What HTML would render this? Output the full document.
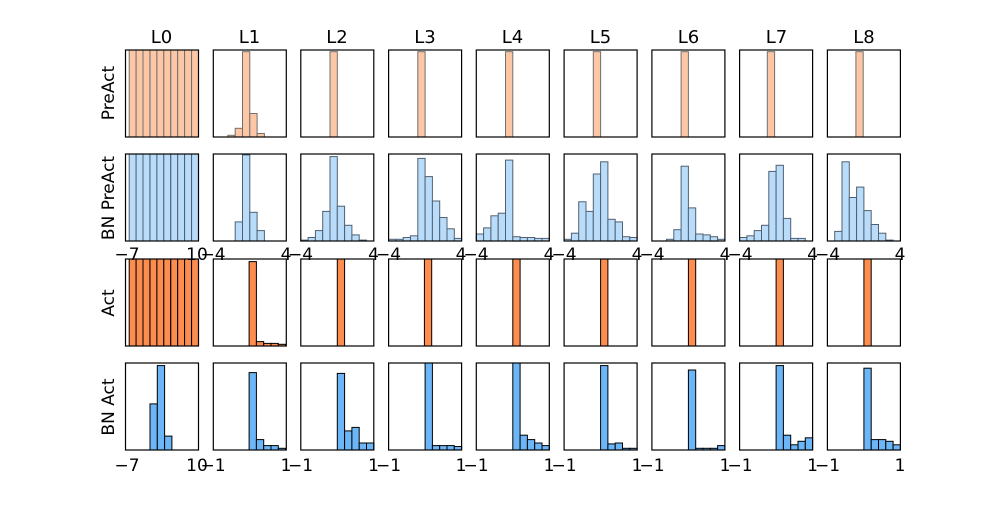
<!DOCTYPE html>
<html><head><meta charset="utf-8"><style>
body{margin:0;background:#fff;width:1000px;height:500px;overflow:hidden}
svg{font-family:"DejaVu Sans","Liberation Sans",sans-serif}
</style></head><body>
<svg id="s" width="1000" height="500" xmlns="http://www.w3.org/2000/svg">
<g font-size="18" text-anchor="middle" fill="#000">
<text x="161.5" y="43">L0</text><text x="249.5" y="43">L1</text><text x="337" y="43">L2</text>
<text x="425" y="43">L3</text><text x="512.5" y="43">L4</text><text x="600.5" y="43">L5</text>
<text x="688.5" y="43">L6</text><text x="776.5" y="43">L7</text><text x="864" y="43">L8</text>
</g>
<g font-size="17" text-anchor="middle" fill="#000">
<text transform="translate(114,93) rotate(-90)">PreAct</text>
<text transform="translate(114,198) rotate(-90)">BN PreAct</text>
<text transform="translate(114,303) rotate(-90)">Act</text>
<text transform="translate(114,407) rotate(-90)">BN Act</text>
</g>
<g id="bars"></g>
<g font-size="17" text-anchor="middle">
<text x="127" y="260">−7</text><text x="197" y="260">10</text>
<text x="213" y="260">−4</text><text x="286" y="260">4</text>
<text x="300.5" y="260">−4</text><text x="373.5" y="260">4</text>
<text x="388.5" y="260">−4</text><text x="461" y="260">4</text>
<text x="476" y="260">−4</text><text x="549" y="260">4</text>
<text x="564" y="260">−4</text><text x="637" y="260">4</text>
<text x="652" y="260">−4</text><text x="725" y="260">4</text>
<text x="740" y="260">−4</text><text x="812.5" y="260">4</text>
<text x="827.5" y="260">−4</text><text x="900" y="260">4</text>
<text x="127" y="471">−7</text><text x="197" y="471">10</text>
<text x="213" y="471">−1</text><text x="286" y="471">1</text>
<text x="300.5" y="471">−1</text><text x="373.5" y="471">1</text>
<text x="388.5" y="471">−1</text><text x="461" y="471">1</text>
<text x="476" y="471">−1</text><text x="549" y="471">1</text>
<text x="564" y="471">−1</text><text x="637" y="471">1</text>
<text x="652" y="471">−1</text><text x="725" y="471">1</text>
<text x="740" y="471">−1</text><text x="812.5" y="471">1</text>
<text x="827.5" y="471">−1</text><text x="900" y="471">1</text>
</g>
</svg>
<script>
var X=[125.5,213.3,300.8,388.6,476.3,564.1,651.9,739.6,827.4],W=73;
var Y=[50,154,259,363],H=87;
var fill=["#fdc7a5","#b9dcfb","#fc8d4f","#6cb6f8"],edge=["#707070","#506070","#000","#000"];
function seq(s,w,hs){return hs.map(function(h,i){return [s+i*w,w,h]});}
var full=seq(0.05,0.095,[1,1,1,1,1,1,1,1,1,1]);
var single=[[0.4,0.1,0.98]];
var D=[
[full,seq(0.2,0.1,[0.02,0.1,0.98,0.27,0.04]),single,single,single,single,single,[[0.38,0.1,0.98]],[[0.39,0.1,0.98]]],
[full,seq(0.3,0.1,[0.22,0.99,0.33,0.12]),
 seq(0,0.1,[0.01,0.04,0.12,0.34,0.97,0.40,0.18,0.07,0.01]),
 seq(0,0.1,[0.02,0.02,0.04,0.06,0.95,0.74,0.46,0.27,0.14,0.03]),
 seq(0,0.1,[0.08,0.15,0.29,0.32,0.93,0.05,0.04,0.04,0.03,0.03]),
 seq(0,0.1,[0.02,0.09,0.45,0.34,0.77,0.91,0.25,0.22,0.05,0.04]),
 seq(0.2,0.1,[0.02,0.13,0.86,0.38,0.08,0.07,0.05,0.02]),
 seq(0,0.1,[0.04,0.06,0.12,0.18,0.80,0.87,0.26,0.03,0.03]),
 seq(0.1,0.1,[0.11,0.91,0.50,0.62,0.35,0.19,0.09,0.01])],
[full,seq(0.49,0.1,[0.97,0.05,0.03,0.03,0.02]),[[0.5,0.1,1]],[[0.49,0.1,1]],[[0.5,0.1,1]],[[0.5,0.1,1]],[[0.5,0.1,1]],[[0.5,0.1,1]],[[0.5,0.1,1]]],
[seq(0.336,0.1,[0.53,0.97,0.16]),seq(0.49,0.1,[0.89,0.12,0.05,0.05,0.02]),
 seq(0.5,0.1,[0.88,0.22,0.26,0.08,0.08]),seq(0.5,0.1,[1,0.05,0.05,0.05,0.04]),
 seq(0.5,0.1,[1,0.17,0.12,0.08,0.05]),seq(0.5,0.1,[0.97,0.07,0.08,0.02,0.02]),
 seq(0.5,0.1,[0.92,0.02,0.02,0.02,0.05]),seq(0.5,0.1,[0.97,0.17,0.06,0.10,0.14]),
 seq(0.5,0.1,[0.94,0.12,0.12,0.10,0.06])]];
var out="";
for(var r=0;r<4;r++)for(var c=0;c<9;c++){
 var x0=X[c],y0=Y[r];
 D[r][c].forEach(function(b){
  var h=b[2]*H;
  out+='<rect x="'+(x0+b[0]*W).toFixed(1)+'" y="'+(y0+H-h).toFixed(1)+'" width="'+(b[1]*W).toFixed(1)+'" height="'+h.toFixed(1)+'" fill="'+fill[r]+'" stroke="'+edge[r]+'" stroke-width="1"/>';
 });
 out+='<rect x="'+x0+'" y="'+y0+'" width="'+W+'" height="'+H+'" fill="none" stroke="#000" stroke-width="1.2"/>';
}
document.getElementById("bars").innerHTML=out;
</script>
</body></html>
